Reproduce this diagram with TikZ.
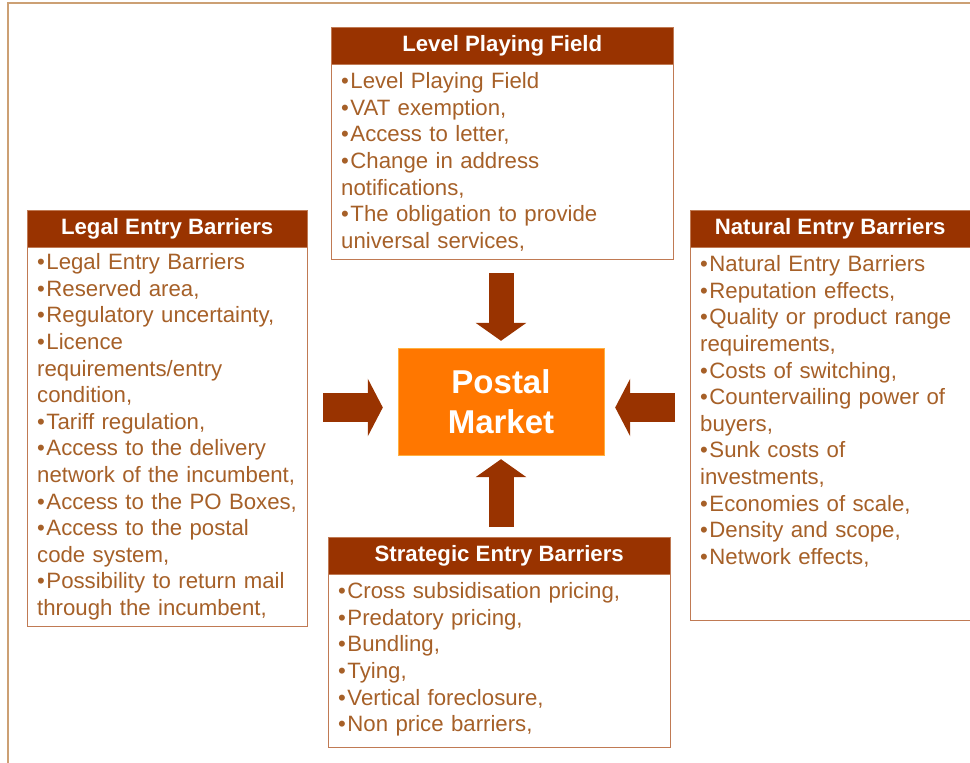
\documentclass[tikz,border=0pt]{standalone}
\usepackage{fontspec}
\setmainfont{Liberation Sans}
\usetikzlibrary{arrows.meta}
\definecolor{rust}{RGB}{153,51,0}
\definecolor{boxline}{RGB}{192,122,84}
\definecolor{bodytext}{RGB}{166,96,40}
\definecolor{frameline}{RGB}{204,160,116}
\definecolor{postal}{RGB}{255,119,0}
\definecolor{postalline}{RGB}{255,176,64}
\newcommand{\blt}{\textbullet\hspace{1.5pt}}

\begin{document}
\begin{tikzpicture}[x=1pt, y=-1pt,
    head/.style = {draw=boxline, fill=rust, text=white, anchor=north west,
      font=\fontsize{22.2}{26}\selectfont\bfseries, minimum height=37pt, inner sep=0pt},
    body/.style = {draw=boxline, fill=white, text=bodytext, anchor=north west,
      font=\fontsize{22.2}{26.6}\selectfont, align=left, inner xsep=10pt, inner ysep=8pt},
    push/.style = {draw=rust, line width=25pt, -{Triangle[width=50pt,length=18pt]}},
    pushh/.style = {draw=rust, line width=29pt, -{Triangle[width=57pt,length=15pt]}}]
  \useasboundingbox (0,0) rectangle (970,763);
  \draw[frameline, line width=1.5pt] (8,766) -- (8,3) -- (975,3);

  \node[draw=postalline, fill=postal, text=white, align=center, minimum width=206pt,
    minimum height=107pt, font=\fontsize{33}{40}\selectfont\bfseries]
    (postal) at (501,401.5) {Postal\\Market};

  \node[head, minimum width=342pt] (level) at (331,27) {Level Playing Field};
  \node[body, text width=322pt] (levelbody) at (level.south west) {%
    \blt Level Playing Field\\
    \blt VAT exemption,\\
    \blt Access to letter,\\
    \blt Change in address\\
    notifications,\\
    \blt The obligation to provide\\
    universal services,};

  \node[head, minimum width=280pt] (legal) at (27,210) {Legal Entry Barriers};
  \node[body, text width=260pt, inner ysep=6pt] (legalbody) at (legal.south west) {%
    \blt Legal Entry Barriers\\
    \blt Reserved area,\\
    \blt Regulatory uncertainty,\\
    \blt Licence\\
    requirements/entry\\
    condition,\\
    \blt Tariff regulation,\\
    \blt Access to the delivery\\
    network of the incumbent,\\
    \blt Access to the PO Boxes,\\
    \blt Access to the postal\\
    code system,\\
    \blt Possibility to return mail\\
    through the incumbent,};

  \node[head, minimum width=284pt] (natural) at (690,210) {\hspace*{-4pt}Natural Entry Barriers};
  \node[body, text width=264pt] (naturalbody) at (natural.south west) {%
    \blt Natural Entry Barriers\\
    \blt Reputation effects,\\
    \blt Quality or product range\\
    requirements,\\
    \blt Costs of switching,\\
    \blt Countervailing power of\\
    buyers,\\
    \blt Sunk costs of\\
    investments,\\
    \blt Economies of scale,\\
    \blt Density and scope,\\
    \blt Network effects,\rule[-48pt]{0pt}{48pt}};

  \node[head, minimum width=342pt] (strategic) at (328,537) {Strategic Entry Barriers};
  \node[body, text width=322pt] (strategicbody) at (strategic.south west) {%
    \blt Cross subsidisation pricing,\\
    \blt Predatory pricing,\\
    \blt Bundling,\\
    \blt Tying,\\
    \blt Vertical foreclosure,\\
    \blt Non price barriers,\rule[-8pt]{0pt}{8pt}};

  \draw[push, shorten <=14pt, shorten >=7pt] (levelbody.south -| postal.north) -- (postal.north);
  \draw[push, shorten <=10pt, shorten >=4pt] (strategic.north -| postal.south) -- (postal.south);
  \draw[pushh, shorten <=16pt, shorten >=15pt] ([yshift=-6pt]legalbody.east |- postal.west) -- ([yshift=-6pt]postal.west);
  \draw[pushh, shorten <=15pt, shorten >=11pt] ([yshift=-6pt]naturalbody.west |- postal.east) -- ([yshift=-6pt]postal.east);
\end{tikzpicture}
\end{document}
